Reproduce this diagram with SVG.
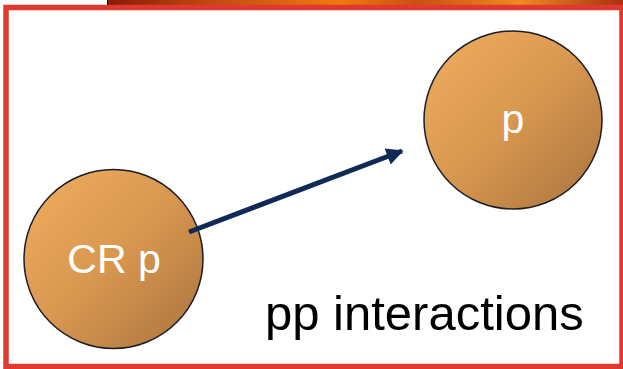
<svg xmlns="http://www.w3.org/2000/svg" width="623" height="369" viewBox="0 0 623 369">
<defs>
<linearGradient id="ball" x1="0" y1="0" x2="1" y2="1">
<stop offset="0" stop-color="#f0ae60"/>
<stop offset="0.5" stop-color="#d8974f"/>
<stop offset="1" stop-color="#a8733f"/>
</linearGradient>
<linearGradient id="strip" x1="0" y1="0" x2="1" y2="0">
<stop offset="0" stop-color="#8a1a05"/>
<stop offset="0.2" stop-color="#c04a10"/>
<stop offset="0.45" stop-color="#f07a10"/>
<stop offset="0.6" stop-color="#c85010"/>
<stop offset="0.8" stop-color="#f08a20"/>
<stop offset="1" stop-color="#a83010"/>
</linearGradient>
<marker id="arr" viewBox="0 0 10 10" refX="9" refY="5" markerWidth="4.2" markerHeight="3.4" orient="auto" markerUnits="strokeWidth">
<path d="M0,0 L10,5 L0,10 Z" fill="#112a55"/>
</marker>
<style>
.node circle{fill:url(#ball);stroke:#1c1c28;stroke-width:1.5}
.lbl{font-family:"Liberation Sans",Arial,sans-serif;fill:#fff;text-anchor:middle}
</style>
</defs>
<rect x="0" y="0" width="623" height="369" fill="#fff"/>
<rect x="108" y="0" width="515" height="6" fill="url(#strip)"/>
<line x1="107.5" y1="0" x2="107.5" y2="6" stroke="#000" stroke-width="1"/>
<rect x="6" y="7.5" width="616" height="359" fill="#fff" stroke="#e03a30" stroke-width="5.5"/>
<g id="node-crp" class="node">
<circle cx="113.5" cy="259" r="89.5"/>
<text class="lbl" x="114" y="273" font-size="41">CR p</text>
</g>
<g id="node-p" class="node">
<circle cx="513" cy="120" r="89"/>
<text class="lbl" x="513" y="133" font-size="41">p</text>
</g>
<g id="connectors">
<line x1="189" y1="232" x2="402" y2="151" stroke="#112a55" stroke-width="5" marker-end="url(#arr)"/>
</g>
<text x="265" y="330" font-family="'Liberation Sans',Arial,sans-serif" font-size="49" fill="#000">pp interactions</text>
</svg>
